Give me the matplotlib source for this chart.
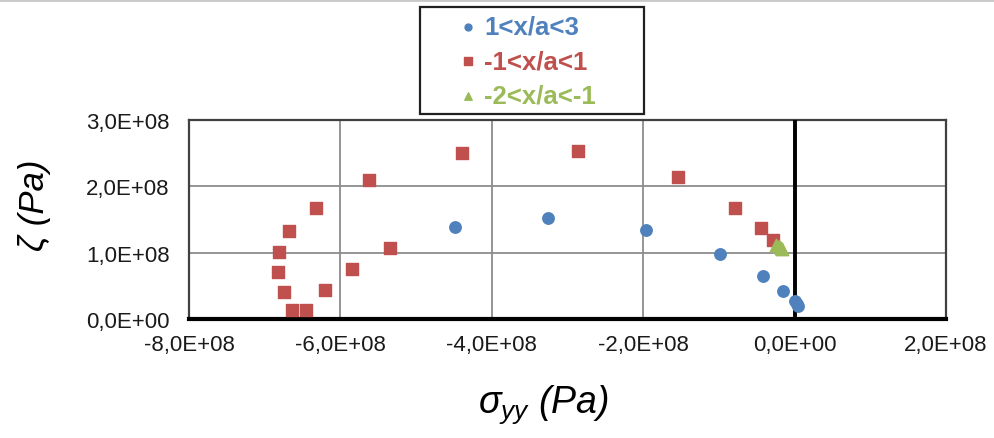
import matplotlib
matplotlib.use("Agg")
import matplotlib.pyplot as plt
from matplotlib.patches import Rectangle
from matplotlib.ticker import FuncFormatter, MultipleLocator

plt.rcParams['font.family'] = ['Liberation Sans', 'DejaVu Sans']
plt.rcParams['mathtext.fontset'] = 'custom'
plt.rcParams['mathtext.it'] = 'Liberation Sans:italic'
plt.rcParams['mathtext.rm'] = 'Liberation Sans'

# data (Pa)
blue_x = [-4.48e8, -3.26e8, -1.96e8, -0.99e8, -0.42e8, -0.15e8, 0.00e8, 0.03e8, 0.05e8]
blue_y = [1.38e8, 1.52e8, 1.34e8, 0.98e8, 0.65e8, 0.42e8, 0.27e8, 0.22e8, 0.19e8]

red_x = [-5.34e8, -5.85e8, -6.20e8, -6.46e8, -6.64e8, -6.75e8, -6.83e8, -6.81e8,
         -6.68e8, -6.32e8, -5.62e8, -4.40e8, -2.86e8, -1.54e8, -0.79e8, -0.45e8, -0.29e8]
red_y = [1.07e8, 0.75e8, 0.44e8, 0.14e8, 0.14e8, 0.41e8, 0.71e8, 1.01e8,
         1.32e8, 1.68e8, 2.10e8, 2.51e8, 2.53e8, 2.14e8, 1.68e8, 1.37e8, 1.19e8]

green_x = [-0.24e8, -0.21e8, -0.18e8, -0.16e8]
green_y = [1.12e8, 1.10e8, 1.07e8, 1.05e8]

labels = ['1<x/a<3', '-1<x/a<1', '-2<x/a<-1']
colors = ['#4F81BD', '#C0504D', '#9BBB59']


def sci_comma(v, pos):
    if v == 0:
        return '0,0E+00'
    return f"{v / 1e8:.1f}E+08".replace('.', ',')


fig = plt.figure(figsize=(9.95, 4.39), dpi=100)
ax = fig.add_axes([189 / 995, 1 - 320 / 439, (946 - 189) / 995, (320 - 121) / 439])

ax.scatter(blue_x, blue_y, s=68, marker='o', color=colors[0], label=labels[0], zorder=4)
ax.scatter(red_x, red_y, s=80, marker='s', color=colors[1], label=labels[1], zorder=4)
ax.scatter(green_x, green_y, s=80, marker='^', color=colors[2], label=labels[2], zorder=5)

ax.set_xlim(-8e8, 2e8)
ax.set_ylim(0, 3e8)
ax.xaxis.set_major_locator(MultipleLocator(2e8))
ax.yaxis.set_major_locator(MultipleLocator(1e8))
ax.xaxis.set_major_formatter(FuncFormatter(sci_comma))
ax.yaxis.set_major_formatter(FuncFormatter(sci_comma))
ax.tick_params(length=0, labelsize=16, colors='#1a1a1a')
ax.tick_params(axis='y', pad=14)
ax.tick_params(axis='x', pad=11)

ax.grid(True, color='#8c8c8c', lw=1.3, zorder=0)
ax.set_axisbelow(True)
ax.axvline(0, color='black', lw=2.8, zorder=3)

for side in ['left', 'right', 'top']:
    ax.spines[side].set_color('#404040')
    ax.spines[side].set_linewidth(1.6)
ax.spines['bottom'].set_color('black')
ax.spines['bottom'].set_linewidth(3)

fig.text(543 / 995, 1 - 405 / 439, r'$\sigma_{yy}$ (Pa)', fontsize=27, style='italic',
         ha='center', va='center')
fig.text(35 / 995, 1 - 205 / 439, 'ζ (Pa)', fontsize=25, style='italic',
         rotation=90, ha='center', va='center')

# legend box is wider than its content, so the frame is drawn separately
fig.add_artist(Rectangle((420 / 995, 1 - 115 / 439), 224 / 995, 107 / 439,
                         transform=fig.transFigure, facecolor='white',
                         edgecolor='#202020', lw=1.6, zorder=1))
leg = fig.legend(loc='center left', bbox_to_anchor=(460 / 995, 1 - 62 / 439),
                 prop={'weight': 'bold', 'size': 18.5}, markerscale=0.6,
                 handlelength=0.6, handletextpad=0.35, labelspacing=0.4, borderpad=0,
                 borderaxespad=0, frameon=False)
leg.set_zorder(2)
for txt, c in zip(leg.get_texts(), colors):
    txt.set_color(c)

# light border line along the top of the picture
fig.add_artist(plt.Line2D([0, 1], [0.997, 0.997], transform=fig.transFigure,
                          color='#c8c8c8', lw=2))

fig.savefig('out.png', dpi=100)
